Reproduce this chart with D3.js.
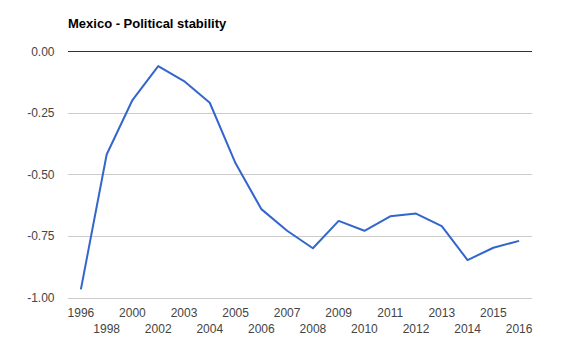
<!DOCTYPE html>
<html><head><meta charset="utf-8">
<script src="https://cdn.jsdelivr.net/npm/d3@7"></script>
<style>html,body{margin:0;padding:0;background:#fff;}</style>
</head><body>
<script>
const title = "Mexico - Political stability";
const years = ["1996","1998","2000","2002","2003","2004","2005","2006","2007","2008","2009","2010","2011","2012","2013","2014","2015","2016"];
const values = [-0.967,-0.419,-0.198,-0.060,-0.121,-0.209,-0.455,-0.641,-0.729,-0.800,-0.689,-0.729,-0.670,-0.659,-0.710,-0.848,-0.798,-0.770];
const yTicks = [0,-0.25,-0.5,-0.75,-1];
const yTickLabels = ["0.00","-0.25","-0.50","-0.75","-1.00"];

(function(){
const W=571,H=351;
const pLeft=68,pRight=532,pTop=51.3,pBottom=297.5;
const svg=d3.select("body").append("svg").attr("width",W).attr("height",H);
const x=d3.scalePoint().domain(years).range([pLeft,pRight]).padding(0.5);
const y=d3.scaleLinear().domain([-1,0]).range([pBottom,pTop]);
const font="Arial, 'Liberation Sans', sans-serif";

svg.append("text").attr("x",68).attr("y",27.5).attr("font-family",font).attr("font-size",13)
  .attr("font-weight","bold").attr("fill","#000").text(title);

svg.append("g").selectAll("line").data(yTicks).join("line")
  .attr("x1",pLeft).attr("x2",pRight).attr("y1",d=>Math.round(y(d))+0.5).attr("y2",d=>Math.round(y(d))+0.5)
  .attr("stroke",d=>d===0?"#333":"#ccc").attr("stroke-width",1);

svg.append("g").selectAll("text").data(yTicks).join("text")
  .attr("x",54.5).attr("y",d=>y(d)+4.5).attr("text-anchor","end")
  .attr("font-family",font).attr("font-size",12).attr("fill","#444")
  .text((d,i)=>yTickLabels[i]);

svg.append("g").selectAll("text").data(years).join("text")
  .attr("x",d=>x(d)).attr("y",(d,i)=>i%2===0?316.7:333.3).attr("text-anchor","middle")
  .attr("font-family",font).attr("font-size",12).attr("fill","#444").text(d=>d);

const line=d3.line().x((d,i)=>x(years[i])).y(d=>y(d));
svg.append("path").datum(values).attr("d",line).attr("fill","none")
  .attr("stroke","#3366cc").attr("stroke-width",2).attr("stroke-linejoin","round");
})();
</script>
</body></html>
